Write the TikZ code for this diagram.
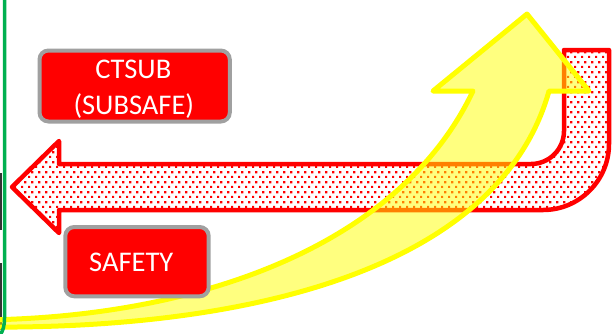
\documentclass[tikz,border=0pt]{standalone}
\usepackage{fontspec}
\newfontfamily\calibri{Carlito}
\usetikzlibrary{patterns}
\definecolor{boxgray}{RGB}{160,160,160}
\definecolor{offgreen}{RGB}{0,176,80}
\definecolor{pureyellow}{RGB}{255,255,0}
\pgfdeclarepatternformonly{reddots}{\pgfqpoint{0pt}{0pt}}{\pgfqpoint{7.2pt}{9.6pt}}{\pgfqpoint{7.2pt}{9.6pt}}{%
  \pgfpathrectangle{\pgfqpoint{0pt}{0pt}}{\pgfqpoint{2.3pt}{2.3pt}}%
  \pgfpathrectangle{\pgfqpoint{3.6pt}{4.8pt}}{\pgfqpoint{2.3pt}{2.3pt}}%
  \pgfusepath{fill}}
\tikzset{
  redarrow/.style={draw=red, line width=4.5pt, line join=round, pattern=reddots, pattern color=red},
  yellowarrow/.style={draw=pureyellow, line width=5pt, line join=round, fill=pureyellow, fill opacity=0.5, draw opacity=1},
  redbox/.style={draw=boxgray, fill=red, line width=4pt, rounded corners=9pt, inner sep=0pt},
  boxtext/.style={text=white, font=\calibri\fontsize{28.5}{35.7}\selectfont, anchor=base, inner sep=0pt},
}
\begin{document}
\begin{tikzpicture}[x=1pt, y=-1pt]
\useasboundingbox (0,0) rectangle (615,333);
\clip (0,0) rectangle (615,333);
% dark slivers at the left edge
\fill[black!80] (0,173) rectangle (2,230);
\fill[black!80] (0,263) rectangle (2,330);
% red J-shaped arrow
\draw[redarrow] (12,187) -- (59,141) -- (59,164) -- (531,164)
  .. controls (549.2,164) and (564,149.2) .. (564,131) -- (564,50) -- (609,50) -- (609,144)
  .. controls (609,180.4) and (579.4,210) .. (543,210) -- (59,210) -- (59,233) -- cycle;
% yellow curved arrow
\filldraw[yellowarrow] (527,14) -- (589,91) -- (549,91)
  .. controls (500,265) and (260,330) .. (-20,327) -- (-20,320)
  .. controls (200,318) and (400,245) .. (473,91) -- (433,91) -- cycle;
% boxes
\node[redbox, minimum width=190.3pt, minimum height=71pt] (ctsub) at (134.65,86) {};
\node[boxtext] (ctsubA) at (133.3,78.3) {CTSUB};
\node[boxtext] (ctsubB) at (133.8,114) {(SUBSAFE)};
\node[redbox, minimum width=143.4pt, minimum height=69.3pt] (safety) at (137,261.65) {};
\node[boxtext] (safetyT) at (131.3,271.7) {SAFETY};
% green frame edge
\draw[offgreen, line width=3.5pt] (4.5,-5) -- (4.5,318) .. controls (4.5,326) and (3,331) .. (0,335);
\end{tikzpicture}
\end{document}
